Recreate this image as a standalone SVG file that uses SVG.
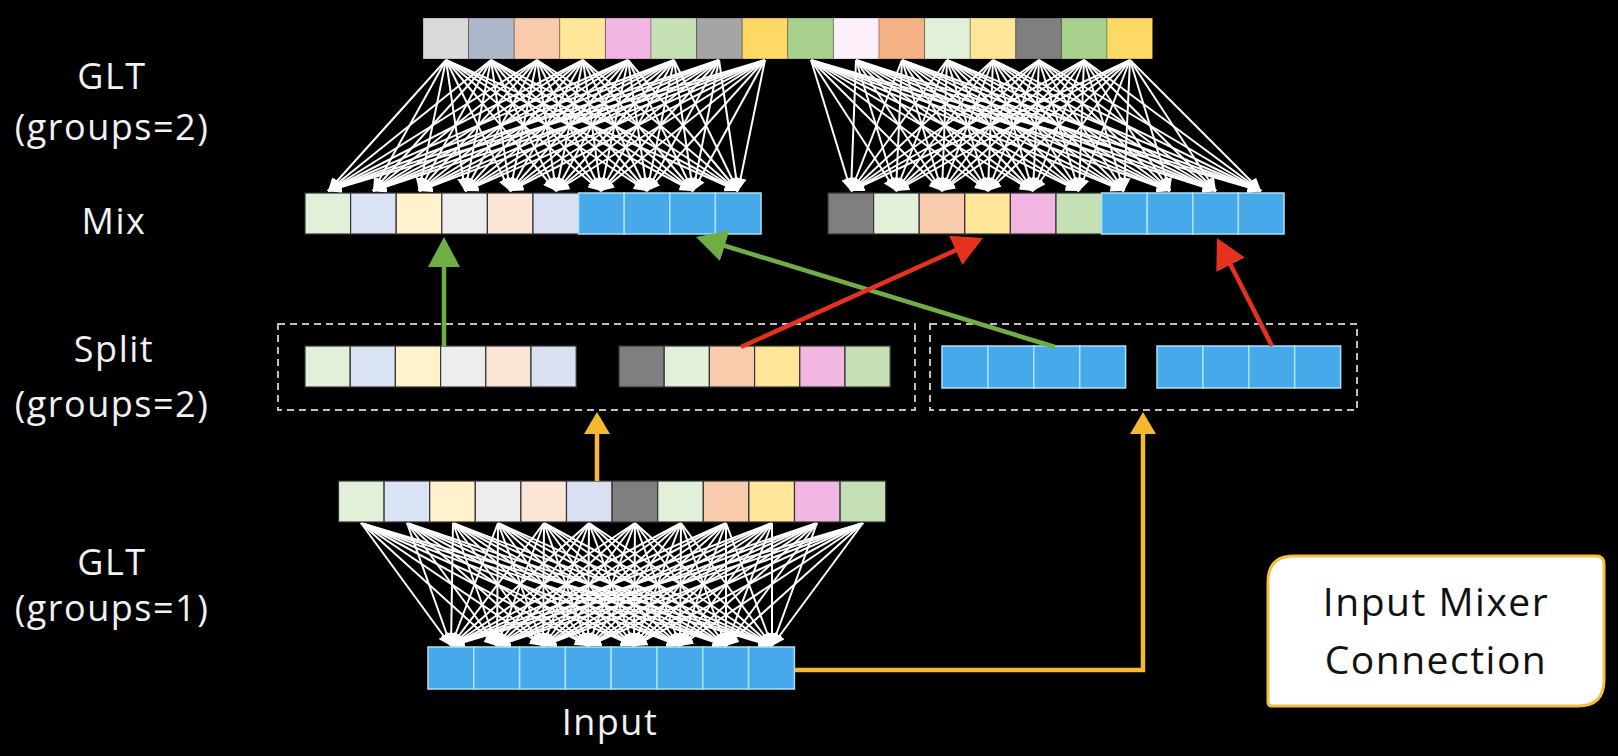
<svg xmlns="http://www.w3.org/2000/svg" width="1618" height="756" viewBox="0 0 1618 756">
<defs>
<style>
.lbl{font-family:"Open Sans","Noto Sans",sans-serif;font-size:36px;fill:#f2f2f2;text-anchor:middle;letter-spacing:1.5px}
.btxt{font-family:"Open Sans","Noto Sans",sans-serif;font-size:39px;fill:#111;text-anchor:middle;letter-spacing:1.5px}
.fan path{stroke:#fff;stroke-width:2;fill:none;marker-end:url(#wh)}
.c{stroke:#333;stroke-width:1.2}
.b{fill:#47a9e9;stroke:#a9e2f8;stroke-width:1.5}
.t{stroke:#000;stroke-opacity:0.25;stroke-width:1}
.dash{fill:none;stroke:#bfbfbf;stroke-width:2;stroke-dasharray:7 5}
</style>
<marker id="wh" markerUnits="userSpaceOnUse" markerWidth="13" markerHeight="12" refX="13" refY="6" orient="auto"><path d="M0,0L13,6L0,12z" fill="#fff"/></marker>
<marker id="ag" markerUnits="userSpaceOnUse" markerWidth="30" markerHeight="32" refX="18" refY="16" orient="auto"><path d="M0,0L30,16L0,32z" fill="#70ad47"/></marker>
<marker id="ar" markerUnits="userSpaceOnUse" markerWidth="30" markerHeight="32" refX="18" refY="16" orient="auto"><path d="M0,0L30,16L0,32z" fill="#e5321f"/></marker>
<marker id="ay" markerUnits="userSpaceOnUse" markerWidth="22" markerHeight="26" refX="12" refY="13" orient="auto"><path d="M0,0L22,13L0,26z" fill="#f4b92f"/></marker>
</defs>
<rect width="1618" height="756" fill="#000"/>

<g id="connectors">
<g class="fan" id="fan-top-left">
<path d="M446 60 328 191"/><path d="M446 60 373 191"/><path d="M446 60 419 191"/><path d="M446 60 465 191"/><path d="M446 60 510 191"/><path d="M446 60 556 191"/><path d="M446 60 601 191"/><path d="M446 60 647 191"/><path d="M446 60 693 191"/><path d="M446 60 738 191"/>
<path d="M491 60 328 191"/><path d="M491 60 373 191"/><path d="M491 60 419 191"/><path d="M491 60 465 191"/><path d="M491 60 510 191"/><path d="M491 60 556 191"/><path d="M491 60 601 191"/><path d="M491 60 647 191"/><path d="M491 60 693 191"/><path d="M491 60 738 191"/>
<path d="M537 60 328 191"/><path d="M537 60 373 191"/><path d="M537 60 419 191"/><path d="M537 60 465 191"/><path d="M537 60 510 191"/><path d="M537 60 556 191"/><path d="M537 60 601 191"/><path d="M537 60 647 191"/><path d="M537 60 693 191"/><path d="M537 60 738 191"/>
<path d="M583 60 328 191"/><path d="M583 60 373 191"/><path d="M583 60 419 191"/><path d="M583 60 465 191"/><path d="M583 60 510 191"/><path d="M583 60 556 191"/><path d="M583 60 601 191"/><path d="M583 60 647 191"/><path d="M583 60 693 191"/><path d="M583 60 738 191"/>
<path d="M628 60 328 191"/><path d="M628 60 373 191"/><path d="M628 60 419 191"/><path d="M628 60 465 191"/><path d="M628 60 510 191"/><path d="M628 60 556 191"/><path d="M628 60 601 191"/><path d="M628 60 647 191"/><path d="M628 60 693 191"/><path d="M628 60 738 191"/>
<path d="M674 60 328 191"/><path d="M674 60 373 191"/><path d="M674 60 419 191"/><path d="M674 60 465 191"/><path d="M674 60 510 191"/><path d="M674 60 556 191"/><path d="M674 60 601 191"/><path d="M674 60 647 191"/><path d="M674 60 693 191"/><path d="M674 60 738 191"/>
<path d="M719 60 328 191"/><path d="M719 60 373 191"/><path d="M719 60 419 191"/><path d="M719 60 465 191"/><path d="M719 60 510 191"/><path d="M719 60 556 191"/><path d="M719 60 601 191"/><path d="M719 60 647 191"/><path d="M719 60 693 191"/><path d="M719 60 738 191"/>
<path d="M765 60 328 191"/><path d="M765 60 373 191"/><path d="M765 60 419 191"/><path d="M765 60 465 191"/><path d="M765 60 510 191"/><path d="M765 60 556 191"/><path d="M765 60 601 191"/><path d="M765 60 647 191"/><path d="M765 60 693 191"/><path d="M765 60 738 191"/>
</g>
<g class="fan" id="fan-top-right">
<path d="M811 60 851 191"/><path d="M811 60 896 191"/><path d="M811 60 942 191"/><path d="M811 60 988 191"/><path d="M811 60 1033 191"/><path d="M811 60 1079 191"/><path d="M811 60 1124 191"/><path d="M811 60 1170 191"/><path d="M811 60 1216 191"/><path d="M811 60 1261 191"/>
<path d="M856 60 851 191"/><path d="M856 60 896 191"/><path d="M856 60 942 191"/><path d="M856 60 988 191"/><path d="M856 60 1033 191"/><path d="M856 60 1079 191"/><path d="M856 60 1124 191"/><path d="M856 60 1170 191"/><path d="M856 60 1216 191"/><path d="M856 60 1261 191"/>
<path d="M902 60 851 191"/><path d="M902 60 896 191"/><path d="M902 60 942 191"/><path d="M902 60 988 191"/><path d="M902 60 1033 191"/><path d="M902 60 1079 191"/><path d="M902 60 1124 191"/><path d="M902 60 1170 191"/><path d="M902 60 1216 191"/><path d="M902 60 1261 191"/>
<path d="M947 60 851 191"/><path d="M947 60 896 191"/><path d="M947 60 942 191"/><path d="M947 60 988 191"/><path d="M947 60 1033 191"/><path d="M947 60 1079 191"/><path d="M947 60 1124 191"/><path d="M947 60 1170 191"/><path d="M947 60 1216 191"/><path d="M947 60 1261 191"/>
<path d="M993 60 851 191"/><path d="M993 60 896 191"/><path d="M993 60 942 191"/><path d="M993 60 988 191"/><path d="M993 60 1033 191"/><path d="M993 60 1079 191"/><path d="M993 60 1124 191"/><path d="M993 60 1170 191"/><path d="M993 60 1216 191"/><path d="M993 60 1261 191"/>
<path d="M1039 60 851 191"/><path d="M1039 60 896 191"/><path d="M1039 60 942 191"/><path d="M1039 60 988 191"/><path d="M1039 60 1033 191"/><path d="M1039 60 1079 191"/><path d="M1039 60 1124 191"/><path d="M1039 60 1170 191"/><path d="M1039 60 1216 191"/><path d="M1039 60 1261 191"/>
<path d="M1084 60 851 191"/><path d="M1084 60 896 191"/><path d="M1084 60 942 191"/><path d="M1084 60 988 191"/><path d="M1084 60 1033 191"/><path d="M1084 60 1079 191"/><path d="M1084 60 1124 191"/><path d="M1084 60 1170 191"/><path d="M1084 60 1216 191"/><path d="M1084 60 1261 191"/>
<path d="M1130 60 851 191"/><path d="M1130 60 896 191"/><path d="M1130 60 942 191"/><path d="M1130 60 988 191"/><path d="M1130 60 1033 191"/><path d="M1130 60 1079 191"/><path d="M1130 60 1124 191"/><path d="M1130 60 1170 191"/><path d="M1130 60 1216 191"/><path d="M1130 60 1261 191"/>
</g>
<g class="fan" id="fan-bottom">
<path d="M361 523 451 646"/><path d="M361 523 497 646"/><path d="M361 523 543 646"/><path d="M361 523 588 646"/><path d="M361 523 634 646"/><path d="M361 523 680 646"/><path d="M361 523 726 646"/><path d="M361 523 772 646"/>
<path d="M407 523 451 646"/><path d="M407 523 497 646"/><path d="M407 523 543 646"/><path d="M407 523 588 646"/><path d="M407 523 634 646"/><path d="M407 523 680 646"/><path d="M407 523 726 646"/><path d="M407 523 772 646"/>
<path d="M453 523 451 646"/><path d="M453 523 497 646"/><path d="M453 523 543 646"/><path d="M453 523 588 646"/><path d="M453 523 634 646"/><path d="M453 523 680 646"/><path d="M453 523 726 646"/><path d="M453 523 772 646"/>
<path d="M498 523 451 646"/><path d="M498 523 497 646"/><path d="M498 523 543 646"/><path d="M498 523 588 646"/><path d="M498 523 634 646"/><path d="M498 523 680 646"/><path d="M498 523 726 646"/><path d="M498 523 772 646"/>
<path d="M544 523 451 646"/><path d="M544 523 497 646"/><path d="M544 523 543 646"/><path d="M544 523 588 646"/><path d="M544 523 634 646"/><path d="M544 523 680 646"/><path d="M544 523 726 646"/><path d="M544 523 772 646"/>
<path d="M589 523 451 646"/><path d="M589 523 497 646"/><path d="M589 523 543 646"/><path d="M589 523 588 646"/><path d="M589 523 634 646"/><path d="M589 523 680 646"/><path d="M589 523 726 646"/><path d="M589 523 772 646"/>
<path d="M635 523 451 646"/><path d="M635 523 497 646"/><path d="M635 523 543 646"/><path d="M635 523 588 646"/><path d="M635 523 634 646"/><path d="M635 523 680 646"/><path d="M635 523 726 646"/><path d="M635 523 772 646"/>
<path d="M681 523 451 646"/><path d="M681 523 497 646"/><path d="M681 523 543 646"/><path d="M681 523 588 646"/><path d="M681 523 634 646"/><path d="M681 523 680 646"/><path d="M681 523 726 646"/><path d="M681 523 772 646"/>
<path d="M726 523 451 646"/><path d="M726 523 497 646"/><path d="M726 523 543 646"/><path d="M726 523 588 646"/><path d="M726 523 634 646"/><path d="M726 523 680 646"/><path d="M726 523 726 646"/><path d="M726 523 772 646"/>
<path d="M772 523 451 646"/><path d="M772 523 497 646"/><path d="M772 523 543 646"/><path d="M772 523 588 646"/><path d="M772 523 634 646"/><path d="M772 523 680 646"/><path d="M772 523 726 646"/><path d="M772 523 772 646"/>
<path d="M817 523 451 646"/><path d="M817 523 497 646"/><path d="M817 523 543 646"/><path d="M817 523 588 646"/><path d="M817 523 634 646"/><path d="M817 523 680 646"/><path d="M817 523 726 646"/><path d="M817 523 772 646"/>
<path d="M863 523 451 646"/><path d="M863 523 497 646"/><path d="M863 523 543 646"/><path d="M863 523 588 646"/><path d="M863 523 634 646"/><path d="M863 523 680 646"/><path d="M863 523 726 646"/><path d="M863 523 772 646"/>
</g>
</g>

<g id="glt-top">
<rect class="t" x="423" y="18" width="45.6" height="41" fill="#d9d9d9"/>
<rect class="t" x="468.6" y="18" width="45.6" height="41" fill="#adb9ca"/>
<rect class="t" x="514.2" y="18" width="45.6" height="41" fill="#f8cbad"/>
<rect class="t" x="559.8" y="18" width="45.6" height="41" fill="#ffe699"/>
<rect class="t" x="605.4" y="18" width="45.6" height="41" fill="#f2b6e3"/>
<rect class="t" x="651" y="18" width="45.6" height="41" fill="#c5e0b4"/>
<rect class="t" x="696.6" y="18" width="45.6" height="41" fill="#a5a5a5"/>
<rect class="t" x="742.2" y="18" width="45.6" height="41" fill="#ffd966"/>
<rect class="t" x="787.8" y="18" width="45.6" height="41" fill="#a9d18e"/>
<rect class="t" x="833.4" y="18" width="45.6" height="41" fill="#fdf0fa"/>
<rect class="t" x="879" y="18" width="45.6" height="41" fill="#f4b183"/>
<rect class="t" x="924.6" y="18" width="45.6" height="41" fill="#e2f0d9"/>
<rect class="t" x="970.2" y="18" width="45.6" height="41" fill="#ffe699"/>
<rect class="t" x="1015.8" y="18" width="45.6" height="41" fill="#7f7f7f"/>
<rect class="t" x="1061.4" y="18" width="45.6" height="41" fill="#a9d18e"/>
<rect class="t" x="1107" y="18" width="45.6" height="41" fill="#ffd966"/>
</g>

<g id="mix-left">
<rect class="c" x="305" y="193" width="45.6" height="41" fill="#e2f0d9"/>
<rect class="c" x="350.6" y="193" width="45.6" height="41" fill="#dae3f3"/>
<rect class="c" x="396.2" y="193" width="45.6" height="41" fill="#fff2cc"/>
<rect class="c" x="441.8" y="193" width="45.6" height="41" fill="#ededed"/>
<rect class="c" x="487.4" y="193" width="45.6" height="41" fill="#fbe5d6"/>
<rect class="c" x="533" y="193" width="45.6" height="41" fill="#dadff2"/>
<rect class="b" x="578.6" y="193" width="45.6" height="41"/>
<rect class="b" x="624.2" y="193" width="45.6" height="41"/>
<rect class="b" x="669.8" y="193" width="45.6" height="41"/>
<rect class="b" x="715.4" y="193" width="45.6" height="41"/>
</g>
<g id="mix-right">
<rect class="c" x="828" y="193" width="45.6" height="41" fill="#7f7f7f"/>
<rect class="c" x="873.6" y="193" width="45.6" height="41" fill="#e2f0d9"/>
<rect class="c" x="919.2" y="193" width="45.6" height="41" fill="#f8cbad"/>
<rect class="c" x="964.8" y="193" width="45.6" height="41" fill="#ffe699"/>
<rect class="c" x="1010.4" y="193" width="45.6" height="41" fill="#f2b6e3"/>
<rect class="c" x="1056" y="193" width="45.6" height="41" fill="#c5e0b4"/>
<rect class="b" x="1101.6" y="193" width="45.6" height="41"/>
<rect class="b" x="1147.2" y="193" width="45.6" height="41"/>
<rect class="b" x="1192.8" y="193" width="45.6" height="41"/>
<rect class="b" x="1238.4" y="193" width="45.6" height="41"/>
</g>

<g id="split-a">
<rect class="dash" x="278" y="324" width="637" height="86"/>
<rect class="c" x="305" y="346" width="45.2" height="41" fill="#e2f0d9"/>
<rect class="c" x="350.2" y="346" width="45.2" height="41" fill="#dae3f3"/>
<rect class="c" x="395.4" y="346" width="45.2" height="41" fill="#fff2cc"/>
<rect class="c" x="440.6" y="346" width="45.2" height="41" fill="#ededed"/>
<rect class="c" x="485.8" y="346" width="45.2" height="41" fill="#fbe5d6"/>
<rect class="c" x="531" y="346" width="45.2" height="41" fill="#dadff2"/>
<rect class="c" x="619" y="346" width="45.2" height="41" fill="#7f7f7f"/>
<rect class="c" x="664.2" y="346" width="45.2" height="41" fill="#e2f0d9"/>
<rect class="c" x="709.4" y="346" width="45.2" height="41" fill="#f8cbad"/>
<rect class="c" x="754.6" y="346" width="45.2" height="41" fill="#ffe699"/>
<rect class="c" x="799.8" y="346" width="45.2" height="41" fill="#f2b6e3"/>
<rect class="c" x="845" y="346" width="45.2" height="41" fill="#c5e0b4"/>
</g>
<g id="split-b">
<rect class="dash" x="930" y="324" width="427" height="86"/>
<rect class="b" x="942" y="346" width="45.9" height="42"/>
<rect class="b" x="987.9" y="346" width="45.9" height="42"/>
<rect class="b" x="1033.8" y="346" width="45.9" height="42"/>
<rect class="b" x="1079.7" y="346" width="45.9" height="42"/>
<rect class="b" x="1157" y="346" width="45.9" height="42"/>
<rect class="b" x="1202.9" y="346" width="45.9" height="42"/>
<rect class="b" x="1248.8" y="346" width="45.9" height="42"/>
<rect class="b" x="1294.7" y="346" width="45.9" height="42"/>
</g>

<g id="glt-bottom">
<rect class="c" x="338.5" y="481" width="45.6" height="41" fill="#e2f0d9"/>
<rect class="c" x="384.1" y="481" width="45.6" height="41" fill="#dae3f3"/>
<rect class="c" x="429.7" y="481" width="45.6" height="41" fill="#fff2cc"/>
<rect class="c" x="475.3" y="481" width="45.6" height="41" fill="#ededed"/>
<rect class="c" x="520.9" y="481" width="45.6" height="41" fill="#fbe5d6"/>
<rect class="c" x="566.5" y="481" width="45.6" height="41" fill="#dadff2"/>
<rect class="c" x="612.1" y="481" width="45.6" height="41" fill="#7f7f7f"/>
<rect class="c" x="657.7" y="481" width="45.6" height="41" fill="#e2f0d9"/>
<rect class="c" x="703.3" y="481" width="45.6" height="41" fill="#f8cbad"/>
<rect class="c" x="748.9" y="481" width="45.6" height="41" fill="#ffe699"/>
<rect class="c" x="794.5" y="481" width="45.6" height="41" fill="#f2b6e3"/>
<rect class="c" x="840.1" y="481" width="45.6" height="41" fill="#c5e0b4"/>
</g>

<g id="input">
<rect class="b" x="428" y="647" width="45.8" height="42"/>
<rect class="b" x="473.8" y="647" width="45.8" height="42"/>
<rect class="b" x="519.6" y="647" width="45.8" height="42"/>
<rect class="b" x="565.4" y="647" width="45.8" height="42"/>
<rect class="b" x="611.2" y="647" width="45.8" height="42"/>
<rect class="b" x="657" y="647" width="45.8" height="42"/>
<rect class="b" x="702.8" y="647" width="45.8" height="42"/>
<rect class="b" x="748.6" y="647" width="45.8" height="42"/>
<text class="lbl" x="610" y="735" letter-spacing="0">Input</text>
</g>

<g id="arrows" fill="none" stroke-width="4.5">
<path d="M444 346V249" stroke="#70ad47" marker-end="url(#ag)"/>
<path d="M1055 347L707.5 240.5" stroke="#70ad47" marker-end="url(#ag)"/>
<path d="M741 347L972.1 242.9" stroke="#e5321f" marker-end="url(#ar)"/>
<path d="M1272 346L1222.4 248.7" stroke="#e5321f" marker-end="url(#ar)"/>
<path d="M597 481V422" stroke="#f4b92f" marker-end="url(#ay)"/>
<path d="M795 670H1143V422" stroke="#f4b92f" marker-end="url(#ay)"/>
</g>

<g id="labels">
<text class="lbl" x="112" y="89">GLT</text>
<text class="lbl" x="112" y="140">(groups=2)</text>
<text class="lbl" x="114" y="234">Mix</text>
<text class="lbl" x="114" y="362">Split</text>
<text class="lbl" x="112" y="417">(groups=2)</text>
<text class="lbl" x="112" y="575">GLT</text>
<text class="lbl" x="112" y="621">(groups=1)</text>
</g>

<g id="legend">
<path d="M1294 556H1596Q1604 556 1604 564V680Q1604 706 1578 706H1272Q1268 706 1268 702V582Q1268 556 1294 556Z" fill="#fff" stroke="#f2c040" stroke-width="3"/>
<text class="btxt" x="1436" y="616">Input Mixer</text>
<text class="btxt" x="1436" y="674" letter-spacing="1">Connection</text>
</g>
</svg>
